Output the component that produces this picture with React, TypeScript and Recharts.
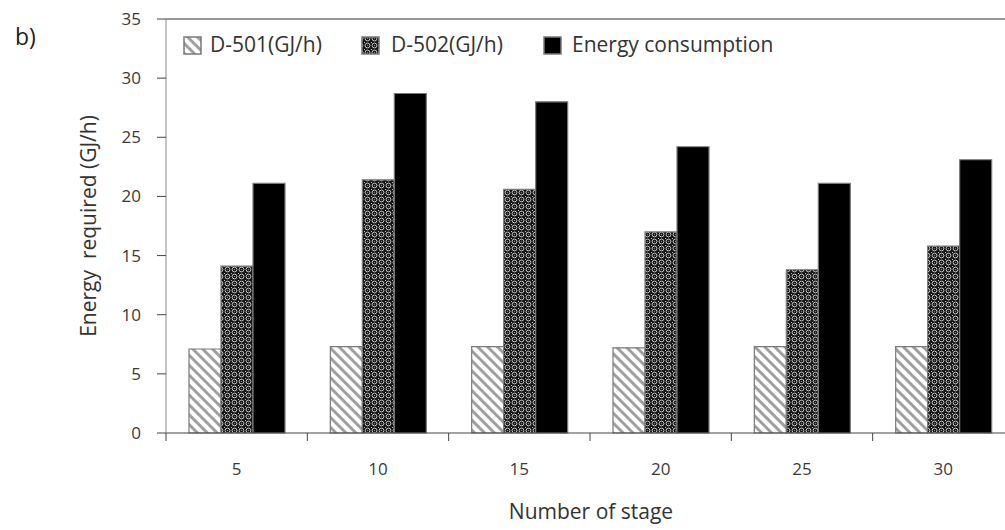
import React from 'react';
import { BarChart, Bar, XAxis, YAxis, ReferenceLine } from 'recharts';

const stages = ['5', '10', '15', '20', '25', '30'];
const d501 = [7.1, 7.3, 7.3, 7.2, 7.3, 7.3];
const d502 = [14.1, 21.4, 20.6, 17.0, 13.8, 15.8];
const energy = [21.1, 28.7, 28.0, 24.2, 21.1, 23.1];
const yTicks = [0, 5, 10, 15, 20, 25, 30, 35];
const seriesNames = ['D-501(GJ/h)', 'D-502(GJ/h)', 'Energy consumption'];

const data = stages.map((stage, i) => ({
  stage,
  d501: d501[i],
  d502: d502[i],
  energy: energy[i],
}));

const FONT = '"Open Sans", sans-serif';

const Patterns = ({ prefix }: { prefix: string }) => (
  <defs>
    <pattern id={`${prefix}-hatch`} patternUnits="userSpaceOnUse" width="7" height="7" patternTransform="rotate(-45)">
      <rect width="7" height="7" fill="#fff" />
      <line x1="1.5" y1="0" x2="1.5" y2="7" stroke="#9a9a9a" strokeWidth="2.8" />
    </pattern>
    <pattern id={`${prefix}-cross`} patternUnits="userSpaceOnUse" width="7" height="7">
      <rect width="7" height="7" fill="#161616" />
      <circle cx="3.5" cy="3.5" r="2.4" fill="none" stroke="#e8e8e8" strokeWidth="0.8" />
      <circle cx="3.5" cy="3.5" r="0.7" fill="#777" />
      <rect x="0" y="0" width="1" height="1" fill="#bbb" />
    </pattern>
  </defs>
);

// category label plus a tick mark on the left edge of its band
const StageTick = (props: any) => {
  const { x, y, payload } = props;
  const left = payload.coordinate - (payload.offset || 0);
  return (
    <g>
      <line x1={left} y1={y} x2={left} y2={y + 8} stroke="#444" />
      <text x={x} y={y + 42} textAnchor="middle" fill="#3a3a3a" fontSize={17} fontFamily={FONT}>
        {payload.value}
      </text>
    </g>
  );
};

const legendFills = ['url(#lg-hatch)', 'url(#lg-cross)', '#000'];
const legendSwatchX = [184, 362, 544];
const legendTextX = [210, 391, 572];

const App = () => {
  return (
    <div style={{ position: 'fixed', left: 0, top: 0, width: 1005, height: 530, overflow: 'hidden', background: '#fff', fontFamily: FONT }}>
      <BarChart
        width={1014}
        height={530}
        data={data}
        margin={{ top: 19, right: 0, bottom: 0, left: 0 }}
        barGap={0}
        barSize={32}
      >
        <Patterns prefix="ch" />
        <XAxis
          dataKey="stage"
          height={97}
          axisLine={{ stroke: '#444' }}
          tickLine={false}
          tickSize={0}
          tickMargin={0}
          tick={<StageTick />}
          label={() => (
            <text x={591} y={519} textAnchor="middle" fill="#333" fontSize={21} fontFamily={FONT}>
              Number of stage
            </text>
          )}
        />
        <YAxis
          width={166}
          domain={[0, 35]}
          ticks={yTicks}
          interval={0}
          tickSize={9}
          tickMargin={16}
          axisLine={{ stroke: '#8a8a8a' }}
          tickLine={{ stroke: '#444' }}
          tick={{ fill: '#3a3a3a', fontSize: 17, fontFamily: FONT }}
          label={() => (
            <text
              transform="translate(96,226) rotate(-90)"
              textAnchor="middle"
              fill="#333"
              fontSize={21}
              fontFamily={FONT}
              style={{ whiteSpace: 'pre' }}
            >
              {'Energy  required (GJ/h)'}
            </text>
          )}
        />
        <ReferenceLine y={35} stroke="#333" strokeWidth={1} />
        <Bar dataKey="d501" name={seriesNames[0]} fill="url(#ch-hatch)" stroke="#7a7a7a" strokeWidth={1.2} isAnimationActive={false} />
        <Bar dataKey="d502" name={seriesNames[1]} fill="url(#ch-cross)" stroke="#7a7a7a" strokeWidth={1.2} isAnimationActive={false} />
        <Bar dataKey="energy" name={seriesNames[2]} fill="#000" stroke="#7a7a7a" strokeWidth={1.2} isAnimationActive={false} />
      </BarChart>

      <svg width={1005} height={70} style={{ position: 'absolute', left: 0, top: 0, pointerEvents: 'none' }}>
        <Patterns prefix="lg" />
        <text x={15} y={45} fontSize={23} fill="#222" fontFamily={FONT}>b)</text>
        {seriesNames.map((name, i) => (
          <g key={name}>
            <rect x={legendSwatchX[i]} y={37} width={17} height={17} fill={legendFills[i]} stroke="#7a7a7a" strokeWidth={1.5} />
            <text x={legendTextX[i]} y={52} fontSize={21} fill="#333" fontFamily={FONT}>{name}</text>
          </g>
        ))}
      </svg>
    </div>
  );
};

export default App;
